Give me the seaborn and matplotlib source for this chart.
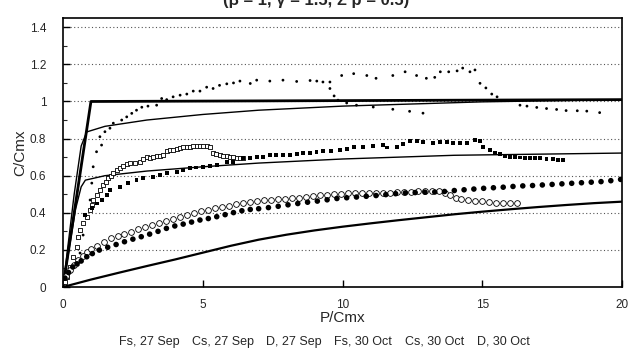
import numpy as np
import pandas as pd
import matplotlib
matplotlib.use('Agg')
import matplotlib.pyplot as plt
from matplotlib.ticker import MultipleLocator, FuncFormatter
import seaborn as sns

fs_sep_x = [0.54, 0.61, 0.72, 0.85, 0.97, 1.03, 1.08, 1.2, 1.32, 1.38, 1.5, 1.68, 1.8, 2.1, 2.28,
            2.46, 2.63, 2.82, 3.04, 3.35, 3.53, 3.71, 3.94, 4.19, 4.43, 4.66, 4.9, 5.14, 5.37, 5.6,
            5.86, 6.1, 6.33, 6.7, 6.93, 7.4, 7.87, 8.36, 8.84, 9.08, 9.3, 9.55, 9.55, 9.7, 9.84,
            10.15, 10.5, 11.1, 11.8, 12.4, 12.88]
fs_sep_y = [0.118, 0.183, 0.28, 0.379, 0.469, 0.56, 0.648, 0.729, 0.81, 0.765, 0.837, 0.856, 0.883,
            0.9, 0.917, 0.936, 0.953, 0.969, 0.975, 0.98, 1.016, 1.01, 1.025, 1.034, 1.04, 1.056,
            1.056, 1.077, 1.07, 1.087, 1.095, 1.1, 1.11, 1.097, 1.115, 1.11, 1.115, 1.108, 1.113,
            1.11, 1.105, 1.105, 1.07, 1.03, 1.007, 0.992, 0.98, 0.97, 0.958, 0.947, 0.937]

fs_oct_x = [9.97, 10.4, 10.87, 11.2, 11.8, 12.24, 12.65, 13.0, 13.3, 13.5, 13.8, 14.1, 14.3, 14.56,
            14.74, 14.92, 15.13, 15.34, 15.53, 16.35, 16.6, 16.95, 17.3, 17.66, 18.0, 18.4, 18.74,
            19.2]
fs_oct_y = [1.14, 1.15, 1.14, 1.125, 1.14, 1.16, 1.14, 1.125, 1.13, 1.16, 1.16, 1.165, 1.18, 1.16,
            1.17, 1.098, 1.073, 1.04, 1.025, 0.98, 0.975, 0.968, 0.962, 0.957, 0.951, 0.95, 0.948,
            0.94]

cs_sep_x = [0.07, 0.13, 0.25, 0.36, 0.49, 0.54, 0.61, 0.72, 0.85, 0.97, 1.03, 1.08, 1.2, 1.32, 1.44,
            1.53, 1.62, 1.71, 1.8, 1.92, 2.04, 2.16, 2.28, 2.4, 2.58, 2.75, 2.88, 3.0, 3.11, 3.23,
            3.35, 3.47, 3.58, 3.71, 3.83, 3.94, 4.07, 4.2, 4.31, 4.43, 4.55, 4.66, 4.78, 4.9, 5.02,
            5.14, 5.26, 5.37, 5.48, 5.6, 5.72, 5.85, 5.98, 6.1, 6.21, 6.33, 6.45]
cs_sep_y = [0.029, 0.055, 0.11, 0.163, 0.217, 0.27, 0.307, 0.345, 0.38, 0.415, 0.44, 0.469, 0.495,
            0.522, 0.549, 0.568, 0.587, 0.601, 0.614, 0.628, 0.64, 0.652, 0.662, 0.666, 0.671,
            0.675, 0.688, 0.7, 0.694, 0.702, 0.705, 0.708, 0.711, 0.733, 0.737, 0.74, 0.744, 0.748,
            0.752, 0.756, 0.757, 0.758, 0.759, 0.759, 0.76, 0.76, 0.756, 0.723, 0.716, 0.711,
            0.708, 0.705, 0.702, 0.699, 0.697, 0.695, 0.693]

cs_oct_x = [0.79, 1.03, 1.2, 1.38, 1.56, 1.68, 2.04, 2.33, 2.63, 2.87, 3.22, 3.47, 3.71, 4.07, 4.3,
            4.54, 4.77, 5.0, 5.25, 5.5, 5.86, 6.08, 6.45, 6.69, 6.93, 7.17, 7.4, 7.63, 7.87, 8.12,
            8.36, 8.6, 8.84, 9.07, 9.3, 9.6, 9.9, 10.15, 10.4, 10.75, 11.1, 11.45, 11.58, 11.94,
            12.16, 12.41, 12.65, 12.88, 13.24, 13.49, 13.73, 13.95, 14.2, 14.44, 14.74, 14.92,
            15.03, 15.28, 15.46, 15.63, 15.81, 15.99, 16.17, 16.35, 16.52, 16.7, 16.88, 17.07,
            17.3, 17.53, 17.7, 17.9]
cs_oct_y = [0.388, 0.425, 0.45, 0.469, 0.495, 0.522, 0.54, 0.56, 0.576, 0.587, 0.594, 0.604, 0.614,
            0.621, 0.63, 0.64, 0.644, 0.648, 0.653, 0.66, 0.672, 0.675, 0.694, 0.694, 0.7, 0.702,
            0.711, 0.711, 0.711, 0.713, 0.716, 0.72, 0.723, 0.728, 0.732, 0.735, 0.738, 0.746,
            0.754, 0.756, 0.759, 0.765, 0.752, 0.756, 0.77, 0.788, 0.786, 0.783, 0.777, 0.782,
            0.783, 0.777, 0.777, 0.777, 0.79, 0.788, 0.755, 0.738, 0.723, 0.715, 0.708, 0.702,
            0.7, 0.698, 0.696, 0.695, 0.694, 0.693, 0.69, 0.688, 0.686, 0.684]

d_sep_x = [0.1, 0.25, 0.4, 0.55, 0.7, 0.85, 1.0, 1.2, 1.45, 1.7, 1.95, 2.2, 2.45, 2.7, 2.95, 3.2,
           3.45, 3.7, 3.95, 4.2, 4.45, 4.7, 4.95, 5.2, 5.45, 5.7, 5.95, 6.2, 6.45, 6.7, 6.95, 7.2,
           7.45, 7.7, 7.95, 8.2, 8.45, 8.7, 8.95, 9.2, 9.45, 9.7, 9.95, 10.2, 10.45, 10.7, 10.95,
           11.2, 11.45, 11.7, 11.95, 12.2, 12.45, 12.7, 12.95, 13.2, 13.45, 13.65, 13.85, 14.05,
           14.25, 14.5, 14.75, 15.0, 15.25, 15.5, 15.75, 16.0, 16.25]
d_sep_y = [0.06, 0.09, 0.12, 0.145, 0.168, 0.19, 0.207, 0.222, 0.244, 0.262, 0.276, 0.287, 0.298,
           0.31, 0.322, 0.333, 0.346, 0.358, 0.369, 0.379, 0.389, 0.399, 0.408, 0.417, 0.426,
           0.433, 0.439, 0.445, 0.451, 0.458, 0.464, 0.467, 0.47, 0.474, 0.477, 0.48, 0.482,
           0.485, 0.489, 0.494, 0.498, 0.501, 0.503, 0.505, 0.506, 0.507, 0.508, 0.508, 0.508,
           0.509, 0.51, 0.512, 0.513, 0.515, 0.516, 0.517, 0.515, 0.508, 0.495, 0.482, 0.474,
           0.469, 0.465, 0.461, 0.457, 0.454, 0.452, 0.451, 0.451]

d_oct_x = [0.07, 0.2, 0.35, 0.5, 0.65, 0.85, 1.05, 1.3, 1.6, 1.9, 2.2, 2.5, 2.8, 3.1, 3.4, 3.7, 4.0,
           4.3, 4.6, 4.9, 5.2, 5.5, 5.8, 6.1, 6.4, 6.7, 7.0, 7.35, 7.7, 8.05, 8.4, 8.75, 9.1, 9.45,
           9.8, 10.15, 10.5, 10.85, 11.2, 11.55, 11.9, 12.25, 12.6, 12.95, 13.3, 13.65, 14.0,
           14.35, 14.7, 15.05, 15.4, 15.75, 16.1, 16.45, 16.8, 17.15, 17.5, 17.85, 18.2, 18.55,
           18.9, 19.25, 19.6, 19.95]
d_oct_y = [0.048, 0.078, 0.108, 0.125, 0.14, 0.163, 0.18, 0.199, 0.214, 0.229, 0.244, 0.258, 0.271,
           0.285, 0.3, 0.316, 0.329, 0.339, 0.35, 0.361, 0.369, 0.379, 0.39, 0.401, 0.411, 0.418,
           0.422, 0.428, 0.435, 0.443, 0.45, 0.457, 0.463, 0.47, 0.477, 0.481, 0.485, 0.489,
           0.493, 0.498, 0.503, 0.507, 0.509, 0.511, 0.512, 0.515, 0.52, 0.524, 0.528, 0.532,
           0.535, 0.538, 0.542, 0.545, 0.547, 0.55, 0.553, 0.556, 0.559, 0.562, 0.565, 0.568,
           0.573, 0.58]

# model curves
step_x = [0, 1.0, 20]
step_y = [0, 1.0, 1.01]
thin_hi_x = [0, 0.4, 0.65, 0.85, 1.5, 3, 5, 7, 10, 15, 20]
thin_hi_y = [0, 0.5, 0.76, 0.836, 0.866, 0.9, 0.93, 0.953, 0.975, 0.998, 1.01]
thin_lo_x = [0, 0.45, 0.65, 0.8, 1.5, 3, 5, 7, 10, 14, 20]
thin_lo_y = [0, 0.42, 0.54, 0.576, 0.6, 0.625, 0.648, 0.668, 0.69, 0.71, 0.722]
curve_x = [0, 1, 2, 3, 4, 5, 6, 7, 8, 9, 10, 11, 12, 13, 14, 15, 16, 17, 18, 19, 20]
curve_y = [0, 0.04, 0.077, 0.113, 0.148, 0.185, 0.222, 0.255, 0.282, 0.305, 0.325, 0.343, 0.36,
           0.376, 0.392, 0.406, 0.419, 0.431, 0.442, 0.452, 0.46]

legend_labels = ['Fs, 27 Sep', 'Cs, 27 Sep', 'D, 27 Sep', 'Fs, 30 Oct', 'Cs, 30 Oct', 'D, 30 Oct']

sns.set_style('ticks')
plt.rcParams['font.family'] = ['Liberation Sans', 'DejaVu Sans']

fig = plt.figure(figsize=(6.32, 3.6), dpi=100)
ax = fig.add_axes([63 / 632, 73 / 360, 559 / 632, 269 / 360])

for yv in np.arange(0.2, 1.41, 0.2):
    ax.axhline(yv, color='#555555', lw=0.8, ls=(0, (1, 2.2)), zorder=0)

sns.lineplot(x=step_x, y=step_y, ax=ax, color='black', lw=2.0, estimator=None, sort=False)
sns.lineplot(x=thin_hi_x, y=thin_hi_y, ax=ax, color='black', lw=1.0, estimator=None, sort=False)
sns.lineplot(x=thin_lo_x, y=thin_lo_y, ax=ax, color='black', lw=1.0, estimator=None, sort=False)
sns.lineplot(x=curve_x, y=curve_y, ax=ax, color='black', lw=1.6, estimator=None, sort=False)

series = [
    (fs_sep_x, fs_sep_y, dict(marker='o', s=4, color='black', edgecolor='none')),
    (cs_sep_x, cs_sep_y, dict(marker='s', s=9, facecolor='white', edgecolor='black', linewidth=0.6)),
    (d_sep_x, d_sep_y, dict(marker='o', s=17, facecolor='white', edgecolor='black', linewidth=0.6)),
    (fs_oct_x, fs_oct_y, dict(marker='o', s=4, color='black', edgecolor='none')),
    (cs_oct_x, cs_oct_y, dict(marker='s', s=8, color='black', edgecolor='none')),
    (d_oct_x, d_oct_y, dict(marker='o', s=16, color='black', edgecolor='none')),
]
for (xs, ys, kw), lab in zip(series, legend_labels):
    sns.scatterplot(x=xs, y=ys, ax=ax, label=lab, zorder=3, **kw)

ax.set_xlim(0, 20)
ax.set_ylim(0, 1.45)
ax.xaxis.set_major_locator(MultipleLocator(5))
ax.yaxis.set_major_locator(MultipleLocator(0.2))
ax.yaxis.set_minor_locator(MultipleLocator(0.1))
ax.yaxis.set_major_formatter(FuncFormatter(lambda v, p: f'{v:g}'))
ax.tick_params(direction='in', length=5, width=1, labelsize=8.5, color='black')
ax.tick_params(which='minor', direction='in', length=3, width=0.8)
ax.tick_params(axis='x', pad=9)
ax.tick_params(axis='y', pad=12)
for sp in ax.spines.values():
    sp.set_color('black')
    sp.set_linewidth(1.2)
ax.set_xlabel('P/Cmx', fontsize=11, labelpad=0)
ax.set_ylabel('C/Cmx', fontsize=11, labelpad=2)

leg = ax.legend(loc='center', bbox_to_anchor=(0.467, -0.204), ncol=6, frameon=False,
                handlelength=0, handletextpad=0, columnspacing=1.0, fontsize=9,
                borderaxespad=0)
for h in leg.legend_handles:
    h.set_visible(False)

fig.text(0.5, 1 - 5 / 360, '(β = 1, γ = 1.5, Σ p = 0.5)', ha='center', va='baseline',
         fontsize=12, fontweight='bold')

fig.savefig('out.png', dpi=100)
